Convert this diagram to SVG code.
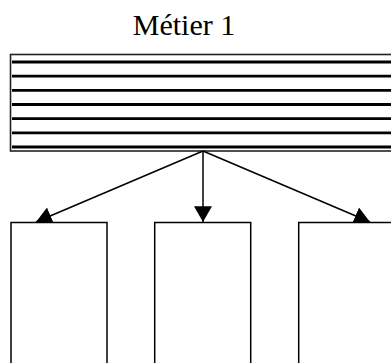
<svg xmlns="http://www.w3.org/2000/svg" width="391" height="363" viewBox="0 0 391 363">
  <style>
    .box { fill: #ffffff; stroke: #000000; stroke-width: 1.5; }
    .outer { fill: #ffffff; stroke: #222222; stroke-width: 1.6; }
    .stripe { stroke: #000000; stroke-width: 2.8; }
    .edge { fill: none; stroke: #000000; stroke-width: 1.5; }
    .title { font-family: "Liberation Serif", "Times New Roman", serif; font-size: 30px; fill: #000000; }
  </style>
  <defs>
    <marker id="arrow" markerUnits="userSpaceOnUse" markerWidth="16" markerHeight="18" viewBox="0 0 14 16" refX="14" refY="8" orient="auto">
      <path d="M0,0 L14,8 L0,16 Z" fill="#000000"/>
    </marker>
  </defs>
  <rect width="391" height="363" fill="#ffffff"/>

  <g id="title">
    <text class="title" x="184" y="35" text-anchor="middle">Métier 1</text>
  </g>

  <g id="metier">
    <rect class="outer" x="10.5" y="54.5" width="400" height="96.5"/>
    <line class="stripe" x1="12" y1="62" x2="400" y2="62"/>
    <line class="stripe" x1="12" y1="76.2" x2="400" y2="76.2"/>
    <line class="stripe" x1="12" y1="90.3" x2="400" y2="90.3"/>
    <line class="stripe" x1="12" y1="104.5" x2="400" y2="104.5"/>
    <line class="stripe" x1="12" y1="118.7" x2="400" y2="118.7"/>
    <line class="stripe" x1="12" y1="132.8" x2="400" y2="132.8"/>
    <line class="stripe" x1="12" y1="147" x2="400" y2="147"/>
  </g>

  <g id="connectors">
    <line class="edge" x1="203" y1="151" x2="36" y2="222" marker-end="url(#arrow)"/>
    <line class="edge" x1="203" y1="151" x2="203" y2="222" marker-end="url(#arrow)"/>
    <line class="edge" x1="203" y1="151" x2="370" y2="222" marker-end="url(#arrow)"/>
  </g>

  <g id="box1">
    <rect class="box" x="11" y="222.5" width="96" height="150"/>
  </g>
  <g id="box2">
    <rect class="box" x="154.7" y="222.5" width="96" height="150"/>
  </g>
  <g id="box3">
    <rect class="box" x="298.7" y="222.5" width="96" height="150"/>
  </g>
</svg>
